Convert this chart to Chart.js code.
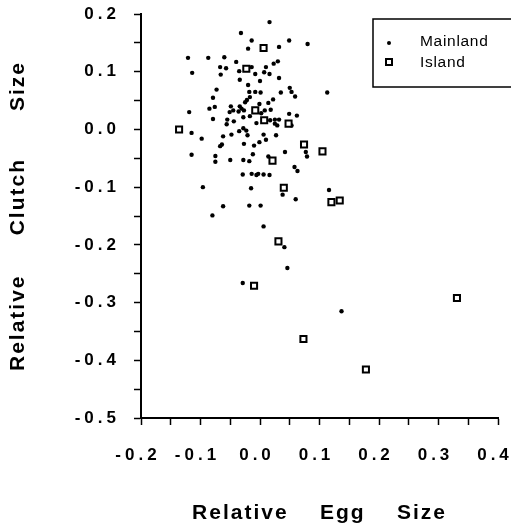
<!DOCTYPE html>
<html>
<head>
<meta charset="utf-8">
<script src="https://cdn.jsdelivr.net/npm/chart.js@4.4.0/dist/chart.umd.min.js"></script>
<style>
  body { margin: 0; background: #fff; }
  canvas { display: block; }
</style>
</head>
<body>
<canvas id="eggChart" width="511" height="529"></canvas>
<script>
// values
const mainlandX = [0.016, -0.032, -0.014, -0.020, 0.032, 0.049, 0.080, -0.121, -0.087, -0.060,
  -0.040, -0.067, -0.057, -0.014, -0.035, -0.008, 0.010, 0.007, 0.016, 0.023,
  0.030, -0.114, -0.066, -0.034, -0.020, 0.000, 0.032, -0.073, -0.018, -0.008,
  0.001, 0.035, 0.050, 0.053, 0.059, 0.113, -0.079, -0.017, -0.022, -0.025,
  -0.001, 0.014, 0.022, -0.119, -0.085, -0.076, -0.049, -0.051, -0.045, -0.034,
  -0.036, -0.031, -0.027, 0.002, 0.008, 0.018, 0.049, 0.062, -0.079, -0.055,
  -0.056, -0.044, -0.028, -0.017, -0.006, 0.017, 0.025, 0.032, 0.029, 0.025,
  0.053, -0.115, -0.098, -0.062, -0.048, -0.035, -0.028, -0.023, -0.021, 0.006,
  0.010, 0.027, -0.064, -0.067, -0.027, -0.010, -0.001, 0.077, 0.079, -0.115,
  -0.075, -0.075, -0.050, -0.028, -0.018, -0.012, 0.014, 0.042, 0.058, 0.063,
  -0.029, -0.014, -0.006, -0.003, 0.006, 0.016, -0.096, -0.015, 0.038, 0.116,
  0.060, -0.062, -0.018, 0.001, -0.080, 0.006, 0.041, 0.046, -0.029, 0.137];
const mainlandY = [0.186, 0.167, 0.154, 0.140, 0.143, 0.154, 0.148, 0.124, 0.124, 0.125,
  0.117, 0.108, 0.106, 0.108, 0.101, 0.096, 0.108, 0.099, 0.096, 0.114,
  0.118, 0.098, 0.095, 0.086, 0.077, 0.084, 0.089, 0.069, 0.065, 0.065,
  0.064, 0.064, 0.072, 0.065, 0.057, 0.064, 0.055, 0.056, 0.051, 0.047,
  0.044, 0.046, 0.052, 0.030, 0.036, 0.039, 0.040, 0.030, 0.033, 0.040,
  0.031, 0.036, 0.033, 0.028, 0.033, 0.034, 0.027, 0.024, 0.018, 0.017,
  0.009, 0.014, 0.021, 0.023, 0.011, 0.016, 0.017, 0.017, 0.007, 0.010,
  0.007, -0.006, -0.016, -0.012, -0.009, -0.003, 0.002, -0.002, -0.010, -0.009,
  -0.018, -0.010, -0.026, -0.029, -0.025, -0.028, -0.022, -0.039, -0.047, -0.044,
  -0.046, -0.056, -0.053, -0.053, -0.055, -0.043, -0.047, -0.039, -0.065, -0.072,
  -0.078, -0.077, -0.079, -0.077, -0.078, -0.079, -0.100, -0.102, -0.113, -0.105,
  -0.121, -0.133, -0.132, -0.132, -0.149, -0.168, -0.204, -0.240, -0.266, -0.315];
const islandX = [0.006, -0.023, -0.008, 0.007, 0.048, -0.136, 0.074, 0.105, 0.021,
  0.040, 0.120, 0.134, 0.031, -0.010, 0.331, 0.073, 0.178];
const islandY = [0.141, 0.105, 0.033, 0.016, 0.010, 0.000, -0.026, -0.038, -0.054,
  -0.101, -0.126, -0.123, -0.194, -0.271, -0.292, -0.363, -0.416];
const legendLabels = ['Mainland', 'Island'];
const xTitle = 'Relative    Egg    Size';
const yTitle = 'Relative     Clutch      Size';

const FONT = '"Liberation Sans", Arial, Helvetica, sans-serif';

const canvas = document.getElementById('eggChart');
const ctx = canvas.getContext('2d');

// the old figure uses wide letter spacing; pick it from the font size
const spacing = { '17px': '4px', '21px': '2px', '15.5px': '0.7px' };
const fontProp = Object.getOwnPropertyDescriptor(CanvasRenderingContext2D.prototype, 'font');
Object.defineProperty(ctx, 'font', {
  get() { return fontProp.get.call(this); },
  set(f) {
    fontProp.set.call(this, f);
    const m = /([\d.]+px)/.exec(f);
    this.letterSpacing = (m && spacing[m[1]]) || '0px';
  }
});

const fmt = v => (Math.round(v * 10) / 10).toFixed(1);

const boxedLegend = {
  id: 'boxedLegend',
  afterDraw(chart) {
    const c = chart.ctx;
    c.save();
    c.strokeStyle = '#000';
    c.lineWidth = 1.5;
    c.strokeRect(373, 19, 150, 68);
    c.fillStyle = '#000';
    c.beginPath();
    c.arc(389, 43, 2, 0, Math.PI * 2);
    c.fill();
    c.lineWidth = 2;
    c.fillStyle = '#fff';
    c.fillRect(386, 59, 6, 6);
    c.strokeRect(386, 59, 6, 6);
    c.fillStyle = '#000';
    c.font = '15.5px ' + FONT;
    c.textAlign = 'left';
    c.textBaseline = 'alphabetic';
    c.fillText(legendLabels[0], 420, 46);
    c.fillText(legendLabels[1], 420, 67);
    c.restore();
  }
};

const tickFont = { family: FONT, size: 17, weight: 'bold' };
const titleFont = { family: FONT, size: 21, weight: 'bold' };

new Chart(ctx, {
  type: 'scatter',
  data: {
    datasets: [{
      label: legendLabels[0],
      data: mainlandX.map((x, i) => ({ x: x, y: mainlandY[i] })),
      pointStyle: 'circle',
      pointRadius: 2.2,
      borderWidth: 0,
      backgroundColor: '#000',
      order: 1
    }, {
      label: legendLabels[1],
      data: islandX.map((x, i) => ({ x: x, y: islandY[i] })),
      pointStyle: 'rect',
      pointRadius: 4.3,
      borderWidth: 2,
      borderColor: '#000',
      backgroundColor: '#fff',
      order: 0
    }]
  },
  options: {
    responsive: false,
    animation: false,
    events: [],
    layout: { padding: { top: 14, right: 13, left: 0, bottom: 0 } },
    plugins: {
      legend: { display: false },
      tooltip: { enabled: false }
    },
    scales: {
      x: {
        type: 'linear',
        min: -0.2,
        max: 0.4,
        afterFit(s) { s.height = 111; s.paddingLeft = 0; s.paddingRight = 0; },
        border: { color: '#000', width: 2 },
        grid: { drawOnChartArea: false, tickLength: 7, tickColor: '#000', tickWidth: 1.5 },
        ticks: {
          stepSize: 0.05,
          autoSkip: false,
          maxRotation: 0,
          padding: 20,
          labelOffset: -3,
          color: '#000',
          font: tickFont,
          callback: (v, i) => i % 2 ? '' : fmt(v)
        },
        title: { display: true, text: xTitle, color: '#000', font: titleFont, padding: { top: 0, bottom: 3 } }
      },
      y: {
        type: 'linear',
        min: -0.5,
        max: 0.2,
        afterFit(s) { s.width = 141; s.paddingTop = 0; s.paddingBottom = 0; },
        border: { color: '#000', width: 2 },
        grid: { drawOnChartArea: false, tickLength: 7, tickColor: '#000', tickWidth: 1.5 },
        ticks: {
          stepSize: 0.05,
          autoSkip: false,
          padding: 14,
          color: '#000',
          font: tickFont,
          callback: (v, i) => i % 2 ? '' : fmt(v)
        },
        title: { display: true, text: yTitle, color: '#000', font: titleFont, padding: { top: 6, bottom: 0 } }
      }
    }
  },
  plugins: [boxedLegend]
});
</script>
</body>
</html>
